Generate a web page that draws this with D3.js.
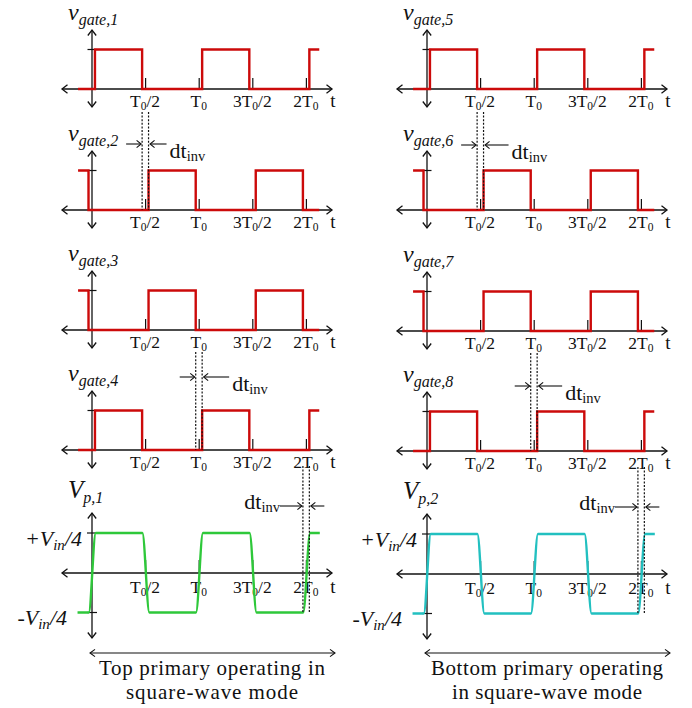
<!DOCTYPE html>
<html>
<head>
<meta charset="utf-8">
<script src="https://cdn.jsdelivr.net/npm/d3@7"></script>
<style>
  html, body { margin: 0; padding: 0; background: #fff; }
  svg { display: block; }
  text { font-family: "Liberation Serif", "Times New Roman", serif; fill: #111; }
</style>
</head>
<body>
<svg id="chart" width="692" height="708"></svg>
<script>
// ---- time axis (in half periods, T0/2 = 1) ----
const tickTimes = [1, 2, 3, 4];
const tickLabels = [
  [["T", "n"], ["0", "s"], ["/2", "n"]],
  [["T", "n"], ["0", "s"]],
  [["3T", "n"], ["0", "s"], ["/2", "n"]],
  [["2T", "n"], ["0", "s"]]
];

// ---- gate signals: switching instants and level held after each instant ----
const gateAEdges  = [-0.26, 0.055, 0.935, 2.055, 2.935, 4.055, 4.24];
const gateALevels = [0, 1, 0, 1, 0, 1, 1];
const gateBEdges  = [-0.26, -0.065, 1.055, 1.935, 3.055, 3.935, 4.24];
const gateBLevels = [1, 0, 1, 0, 1, 0, 0];

// ---- primary voltage (normalised to Vin/4) ----
const vpTimes  = [-0.27, -0.06, 0.07, 0.94, 1.07, 1.94, 2.07, 2.94, 3.07, 3.94, 4.07, 4.25];
const vpLevels = [-1, -1, 1, 1, -1, -1, 1, 1, -1, -1, 1, 1];

// ---- dead-time intervals that are annotated ----
const dtAtHalf = [0.935, 1.055];
const dtAtT0   = [1.935, 2.055];
const dtAt2T0  = [3.935, 4.055];

// ---- panel names ----
const leftGateNames  = ["1", "2", "3", "4"];
const rightGateNames = ["5", "6", "7", "8"];
const captions = [
  ["Top primary operating in", "square-wave mode"],
  ["Bottom primary operating", "in square-wave mode"]
];

const svg = d3.select("#chart");
svg.append("rect").attr("width", 692).attr("height", 708).attr("fill", "#fff");

const HALF = 53.6;
const x = d3.scaleLinear().domain([0, 4]).range([0, 4 * HALF]);
const yGate = d3.scaleLinear().domain([0, 1]).range([0, -39.5]);
const yVp = d3.scaleLinear().domain([-1, 1]).range([39.5, -40]);

const RED = "#cc0a0a", GREEN = "#2ec83a", CYAN = "#22c0c0";

function head(g, px, py, dir, len = 5.5, spread = 4.2, w = 1.3) {
  let p;
  if (dir === "right") p = `M${px - len},${py - spread}L${px},${py}L${px - len},${py + spread}`;
  if (dir === "left")  p = `M${px + len},${py - spread}L${px},${py}L${px + len},${py + spread}`;
  if (dir === "up")    p = `M${px - spread},${py + len}L${px},${py}L${px + spread},${py + len}`;
  if (dir === "down")  p = `M${px - spread},${py - len}L${px},${py}L${px + spread},${py - len}`;
  g.append("path").attr("d", p).attr("fill", "none").attr("stroke", "#111").attr("stroke-width", w);
}

function hline(g, x1, x2, y, w = 1.3) {
  g.append("line").attr("x1", x1).attr("x2", x2).attr("y1", y).attr("y2", y)
    .attr("stroke", "#111").attr("stroke-width", w);
}
function vline(g, xx, y1, y2, w = 1.3, dash = null) {
  const l = g.append("line").attr("x1", xx).attr("x2", xx).attr("y1", y1).attr("y2", y2)
    .attr("stroke", "#111").attr("stroke-width", w);
  if (dash) l.attr("stroke-dasharray", dash);
}

// text with subscripts: parts = [[string, "n"|"s"], ...]
function rich(g, px, py, parts, o) {
  const t = g.append("text").attr("x", px).attr("y", py)
    .attr("text-anchor", o.anchor || "start")
    .style("font-style", o.italic ? "italic" : "normal")
    .attr("font-size", o.size);
  let down = false;
  parts.forEach(([s, role]) => {
    const sp = t.append("tspan").text(s);
    if (role === "s") {
      sp.attr("font-size", o.sub);
      if (!down) { sp.attr("dy", o.shift); down = true; }
    } else {
      sp.attr("font-size", o.size);
      if (down) { sp.attr("dy", -o.shift); down = false; }
    }
  });
  return t;
}

function timeAxis(g, tickLen, labelDy) {
  hline(g, -30, 240, 0);
  head(g, -30, 0, "left");
  head(g, 240, 0, "right");
  tickTimes.forEach((t, i) => {
    vline(g, x(t), -tickLen, 0, 1.2);
    rich(g, x(t) - 0.5, labelDy, tickLabels[i], { size: 17.5, sub: 11.5, shift: 3, anchor: "middle" });
  });
  g.append("text").attr("x", 241).attr("y", labelDy).attr("text-anchor", "middle")
    .attr("font-size", 19).text("t");
}

function dtArrows(g, pair, arrowY, rightLen, leftLen, textOnRight) {
  const a = x(pair[0]), b = x(pair[1]);
  hline(g, a - rightLen, a - 1, arrowY, 1.1);
  head(g, a - 1, arrowY, "right", 4.5, 3.6, 1.1);
  hline(g, b + 1.5, b + leftLen, arrowY, 1.1);
  head(g, b + 1.5, arrowY, "left", 4.5, 3.6, 1.1);
  const parts = [["dt", "n"], ["inv", "s"]];
  if (textOnRight) {
    rich(g, b + leftLen + 3, arrowY + 14, parts, { size: 22, sub: 14.5, shift: 3 });
  } else {
    rich(g, a - rightLen, arrowY + 3, parts, { size: 22, sub: 14.5, shift: 3, anchor: "end" });
  }
}

function gatePanel(ox, ay, name, edges, levels, dt) {
  const g = svg.append("g").attr("transform", `translate(${ox},${ay})`);
  // vertical axis
  vline(g, 0, -59, 18);
  head(g, 0, -59, "up");
  head(g, 0, 18, "down");
  hline(g, -4.5, 4.5, yGate(1), 1.2);
  timeAxis(g, 11, 18);
  // label
  rich(g, -24, -69, [["v", "n"], ["gate," + name, "s"]], { size: 24, sub: 16, shift: 5, italic: true });
  // waveform
  const pts = edges.map((t, i) => [t, levels[i]]);
  g.append("path").datum(pts)
    .attr("d", d3.line().x(d => x(d[0])).y(d => yGate(d[1])).curve(d3.curveStepAfter))
    .attr("fill", "none").attr("stroke", RED).attr("stroke-width", 2.4);
  // dead-time annotation
  if (dt) {
    dt.pair.forEach(t => vline(g, x(t), -98, 0, 1.2, "2,1.6"));
    dtArrows(g, dt.pair, dt.arrowY, 16, dt.leftLen, true);
  }
}

function vpPanel(ox, ay, name, color) {
  const g = svg.append("g").attr("transform", `translate(${ox},${ay})`);
  vline(g, 0, -60, 65);
  head(g, 0, -60, "up");
  head(g, 0, 65, "down");
  hline(g, -5, 5, yVp(1), 1.2);
  hline(g, -5, 5, yVp(-1), 1.2);
  timeAxis(g, 13, 20);
  rich(g, -24, -75, [["V", "n"], ["p," + name, "s"]], { size: 25, sub: 16, shift: 5, italic: true });
  rich(g, -10, -27, [["+V", "n"], ["in", "s"], ["/4", "n"]], { size: 22, sub: 15, shift: 4, italic: true, anchor: "end" });
  rich(g, -25, 52, [["-V", "n"], ["in", "s"], ["/4", "n"]], { size: 22, sub: 15, shift: 4, italic: true, anchor: "end" });
  const pts = vpTimes.map((t, i) => [t, vpLevels[i]]);
  g.append("path").datum(pts)
    .attr("d", d3.line().x(d => x(d[0])).y(d => yVp(d[1])).curve(d3.curveMonotoneX))
    .attr("fill", "none").attr("stroke", color).attr("stroke-width", 2.4);
  dtAt2T0.forEach(t => vline(g, x(t), -107, yVp(-1), 1.2, "2,1.6"));
  dtArrows(g, dtAt2T0, -67, 23, 15, false);
}

function caption(ox, lines, widths) {
  const g = svg.append("g").attr("transform", `translate(${ox},653)`);
  hline(g, -2, 243, 0, 1.1);
  head(g, -2, 0, "left", 5, 3.6, 1.1);
  head(g, 243, 0, "right", 5, 3.6, 1.1);
  lines.forEach((s, i) => {
    g.append("text").attr("x", 120).attr("y", 22 + i * 23.5).attr("text-anchor", "middle")
      .attr("font-size", 21).attr("textLength", widths[i]).attr("lengthAdjust", "spacing")
      .text(s);
  });
}

// left column
gatePanel(92, 89,  leftGateNames[0], gateAEdges, gateALevels, null);
gatePanel(92, 210, leftGateNames[1], gateBEdges, gateBLevels, { pair: dtAtHalf, arrowY: -66, leftLen: 18 });
gatePanel(92, 330, leftGateNames[2], gateBEdges, gateBLevels, null);
gatePanel(92, 450, leftGateNames[3], gateAEdges, gateALevels, { pair: dtAtT0, arrowY: -73, leftLen: 27 });
vpPanel(92, 573, "1", GREEN);
caption(92, captions[0], [226, 172]);

// right column
gatePanel(427, 89,  rightGateNames[0], gateAEdges, gateALevels, null);
gatePanel(427, 210, rightGateNames[1], gateBEdges, gateBLevels, { pair: dtAtHalf, arrowY: -65, leftLen: 25 });
gatePanel(427, 331, rightGateNames[2], gateBEdges, gateBLevels, null);
gatePanel(427, 451, rightGateNames[3], gateAEdges, gateALevels, { pair: dtAtT0, arrowY: -65, leftLen: 25 });
vpPanel(427, 574, "2", CYAN);
caption(427, captions[1], [232, 190]);
</script>
</body>
</html>
